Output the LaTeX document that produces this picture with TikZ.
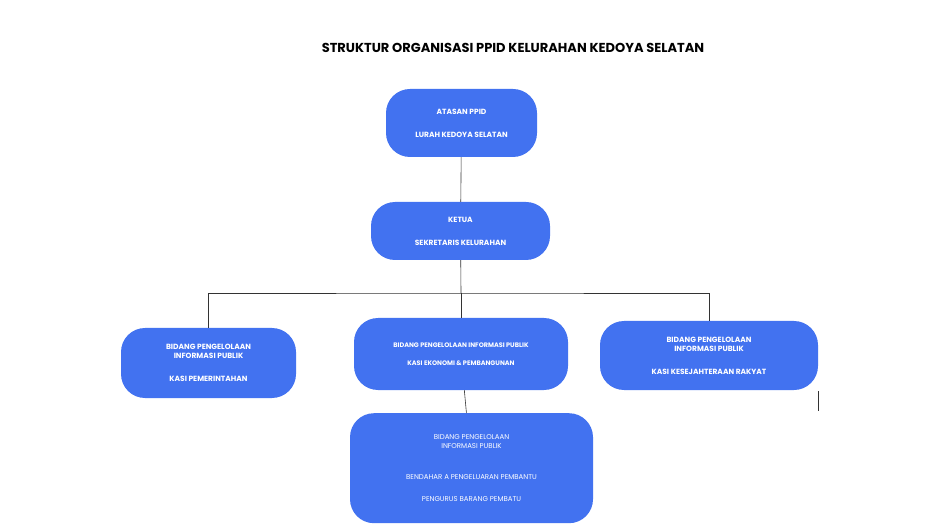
\documentclass[tikz,border=0pt]{standalone}
\usepackage{fontspec}
\setmainfont{Poppins}
\usepackage{tikz}
\usetikzlibrary{positioning}
\definecolor{boxblue}{RGB}{66,114,240}
\begin{document}
\begin{tikzpicture}
[x=1pt,y=-1pt,
 unit/.style={fill=boxblue,rounded corners=24pt,text=white,align=center,
   font=\fontsize{7.5}{9}\selectfont\bfseries,inner sep=0pt},
 staff/.style={unit,font=\fontsize{7.5}{9}\selectfont},
 link/.style={draw=black!80,line width=0.6pt}]
\useasboundingbox (0,0) rectangle (947,526);

\node (title) at (513,48) {\fontsize{13}{15}\selectfont\bfseries STRUKTUR ORGANISASI PPID KELURAHAN KEDOYA SELATAN};

\node [unit,minimum width=151pt,minimum height=68pt] (atasan) at (461.5,123)
 {ATASAN PPID\\[14pt]LURAH KEDOYA SELATAN};
\node [unit,minimum width=179pt,minimum height=58pt] (ketua) at (460.5,231)
 {KETUA\\[14pt]SEKRETARIS KELURAHAN};
\node [unit,minimum width=175pt,minimum height=70pt] (pem) at (208.5,363)
 {BIDANG PENGELOLAAN\\INFORMASI PUBLIK\\[14pt]KASI PEMERINTAHAN};
\node [unit,minimum width=214pt,minimum height=72pt,font=\fontsize{6.5}{8}\selectfont\bfseries] (eko) at (461,354)
 {BIDANG PENGELOLAAN INFORMASI PUBLIK\\[10pt]KASI EKONOMI \& PEMBANGUNAN};
\node [unit,minimum width=218pt,minimum height=69pt] (kesra) at (709,355.5)
 {BIDANG PENGELOLAAN\\INFORMASI PUBLIK\\[14pt]KASI KESEJAHTERAAN RAKYAT};
\node [staff,minimum width=243pt,minimum height=110pt,anchor=north,font=\fontsize{7}{8.5}\selectfont] (bend) at (471.5,413)
 {BIDANG PENGELOLAAN\\INFORMASI PUBLIK\\[23pt]BENDAHAR A PENGELUARAN PEMBANTU\\[13pt]PENGURUS BARANG PEMBATU};

\coordinate (bar) at (461,293);
\coordinate (stray1) at (818,391);
\coordinate (stray2) at (818,411);

\draw [link] (atasan) -- (ketua);
\draw [link] (ketua) -- (bar);
\draw [link] (pem.north) |- (bar) -| (kesra.north);
\draw [link] (bar) -- (eko);
\draw [link] (eko) -- (bend);
\draw [link] (stray1) -- (stray2);
\end{tikzpicture}
\end{document}
